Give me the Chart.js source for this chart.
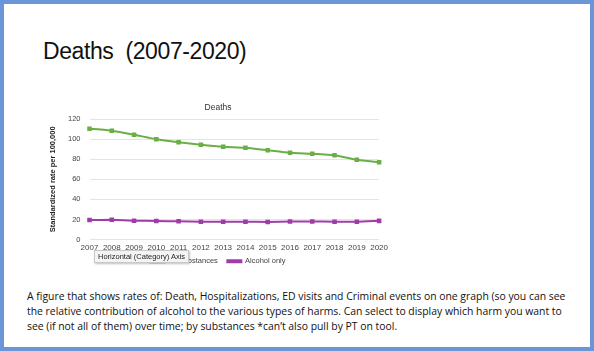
<!DOCTYPE html>
<html>
<head>
<meta charset="utf-8">
<script src="https://cdn.jsdelivr.net/npm/chart.js@4.4.1/dist/chart.umd.min.js"></script>
<style>
  body { margin: 0; background: #fff; }
  #slide { position: absolute; left: 0; top: 0; width: 586px; height: 343px; border: 4px solid #6a96d8; background: #fff; }
  #heading { position: absolute; left: 39px; top: 34px; font-family: "Liberation Sans", Arial, sans-serif; font-size: 23px; letter-spacing: -0.4px; color: #111; white-space: pre; }
  #wrap { position: absolute; left: 40px; top: 93px; width: 348px; height: 178px; }
  #tip { position: absolute; left: 90px; top: 246px; padding: 1px 3px; background: #f4f4f4; border: 1px solid #c8c8c8; box-shadow: 1px 1px 2px rgba(0,0,0,0.25); font-family: "Liberation Sans", Arial, sans-serif; font-size: 7.5px; color: #222; }
  #note { position: absolute; left: 23px; top: 285px; font-family: "Open Sans", sans-serif; font-size: 10.4px; line-height: 15px; color: #111; }
</style>
</head>
<body>
<div id="slide">
  <div id="heading">Deaths  (2007-2020)</div>
  <div id="wrap"><canvas id="deaths"></canvas></div>
  <div id="tip">Horizontal (Category) Axis</div>
  <div id="note">A figure that shows rates of: Death, Hospitalizations, ED visits and Criminal events on one graph (so you can see<br>the relative contribution of alcohol to the various types of harms. Can select to display which harm you want to<br>see (if not all of them) over time; by substances *can’t also pull by PT on tool.</div>
</div>
<script>
const years = ["2007","2008","2009","2010","2011","2012","2013","2014","2015","2016","2017","2018","2019","2020"];
const allSubstances = [110.5, 108.5, 104.5, 100, 97, 94.5, 92.5, 91.5, 89, 86.5, 85.5, 84, 79.5, 77];
const alcoholOnly = [19.5, 19.6, 18.8, 18.4, 18.2, 17.8, 17.7, 17.8, 17.5, 18, 18, 17.8, 17.7, 18.6];
const yTicks = [0, 20, 40, 60, 80, 100, 120];

new Chart(document.getElementById("deaths"), {
    type: 'line',
    data: {
        labels: years,
        datasets: [
            {
                label: "All Substances\u2003",
                data: allSubstances,
                borderColor: '#6aaf45',
                backgroundColor: '#6aaf45',
                borderWidth: 2,
                pointRadius: 1.8,
                pointStyle: 'rect',
                tension: 0.15
            },
            {
                label: "Alcohol only",
                data: alcoholOnly,
                borderColor: '#a03ca8',
                backgroundColor: '#a03ca8',
                borderWidth: 2,
                pointRadius: 1.8,
                pointStyle: 'rect',
                tension: 0.15
            }
        ]
    },
    options: {
        responsive: true,
        maintainAspectRatio: false,
        animation: false,
        layout: { padding: { left: 2, right: 2, top: 2, bottom: 0 } },
        scales: {
            x: {
                grid: { display: false, drawTicks: false },
                border: { display: false },
                ticks: { color: '#444', font: { family: 'Liberation Sans', size: 8, lineHeight: 1 }, maxRotation: 0, autoSkip: false, padding: 4 }
            },
            y: {
                min: 0,
                max: 120,
                afterBuildTicks: function(axis) { axis.ticks = yTicks.map(v => ({ value: v })); },
                grid: { color: '#e4e4e4', drawTicks: false },
                border: { display: false },
                ticks: { color: '#444', font: { family: 'Liberation Sans', size: 7.5 }, padding: 9 },
                title: { display: true, text: "Standardized rate per 100,000", color: '#222', font: { family: 'Liberation Sans', size: 7.5, weight: 'bold' }, padding: 2 }
            }
        },
        plugins: {
            legend: {
                position: 'bottom',
                labels: { boxWidth: 14, boxHeight: 2, color: '#444', font: { family: 'Liberation Sans', size: 7.5 }, padding: 2 }
            },
            title: {
                display: true,
                text: "Deaths",
                color: '#333',
                font: { family: 'Liberation Sans', size: 8.5, weight: 'normal' },
                padding: { top: 4, bottom: 6 }
            },
            tooltip: { enabled: false }
        }
    }
})
</script>
</body>
</html>
